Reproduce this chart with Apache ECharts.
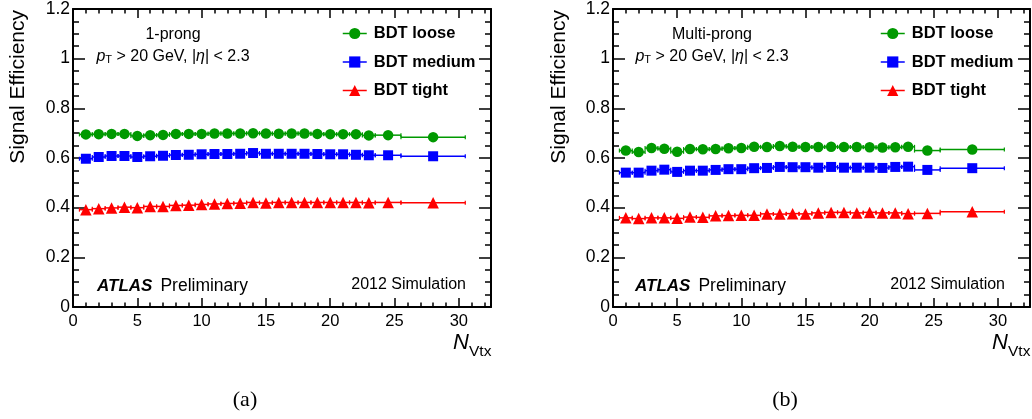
<!DOCTYPE html>
<html>
<head>
<meta charset="utf-8">
<script src="https://cdn.jsdelivr.net/npm/echarts@6/dist/echarts.min.js"></script>
<style>
html,body{margin:0;padding:0;background:#fff;}
#chart{width:1032px;height:419px;}
</style>
</head>
<body>
<div id="chart"></div>
<script>
// ---- data ----
const nvtx    = [1,2,3,4,5,6,7,8,9,10,11,12,13,14,15,16,17,18,19,20,21,22,23,24.5,28];
const binLow  = [0.5,1.5,2.5,3.5,4.5,5.5,6.5,7.5,8.5,9.5,10.5,11.5,12.5,13.5,14.5,15.5,16.5,17.5,18.5,19.5,20.5,21.5,22.5,23.5,25.5];
const binHigh = [1.5,2.5,3.5,4.5,5.5,6.5,7.5,8.5,9.5,10.5,11.5,12.5,13.5,14.5,15.5,16.5,17.5,18.5,19.5,20.5,21.5,22.5,23.5,25.5,30.5];

const looseA  = [0.695,0.696,0.697,0.697,0.689,0.692,0.693,0.697,0.697,0.697,0.699,0.699,0.699,0.700,0.699,0.698,0.699,0.699,0.697,0.696,0.696,0.696,0.691,0.692,0.684];
const mediumA = [0.597,0.604,0.608,0.608,0.604,0.607,0.609,0.612,0.613,0.615,0.616,0.616,0.617,0.620,0.617,0.617,0.617,0.617,0.616,0.615,0.615,0.613,0.611,0.611,0.607];
const tightA  = [0.392,0.396,0.399,0.402,0.400,0.405,0.405,0.409,0.410,0.413,0.415,0.417,0.418,0.421,0.419,0.421,0.421,0.421,0.421,0.421,0.421,0.421,0.420,0.421,0.420];

const looseB  = [0.630,0.624,0.640,0.637,0.625,0.636,0.635,0.636,0.639,0.640,0.645,0.644,0.648,0.645,0.644,0.644,0.645,0.644,0.644,0.643,0.642,0.643,0.645,0.630,0.634];
const mediumB = [0.541,0.541,0.549,0.553,0.544,0.549,0.549,0.552,0.555,0.555,0.559,0.560,0.564,0.563,0.563,0.561,0.564,0.561,0.561,0.561,0.560,0.564,0.565,0.552,0.559];
const tightB  = [0.359,0.356,0.359,0.359,0.357,0.362,0.361,0.367,0.368,0.369,0.369,0.375,0.374,0.376,0.375,0.379,0.381,0.381,0.379,0.381,0.379,0.379,0.376,0.377,0.384];

const seriesNames = ['BDT loose','BDT medium','BDT tight'];
const panelLabels = ['1-prong','Multi-prong'];
const captions = ['(a)','(b)'];
const xMin = 0, xMax = 32.5, xInterval = 5;
const yMin = 0, yMax = 1.2, yInterval = 0.2;

// ---- styles ----
const FONT = 'Liberation Sans, Arial, sans-serif';
const colors = ['#009900','#0000ff','#ff0000'];
const symbols = ['circle','rect','triangle'];
const symbolSizes = [10.5,10,11.5];

const grids = [
  {left:73, top:7, width:418, height:300},
  {left:613, top:7, width:417, height:300}
];

function xAxes(gi){
  const common = {
    type:'value', gridIndex:gi, min:xMin, max:xMax, interval:xInterval,
    axisLine:{show:true, onZero:false, lineStyle:{color:'#000', width:2}},
    axisTick:{show:true, inside:true, length:9, lineStyle:{color:'#000', width:1.5}},
    minorTick:{show:true, splitNumber:5, length:4.5, lineStyle:{color:'#000', width:1.5}},
    splitLine:{show:false}
  };
  return [
    Object.assign({}, common, {position:'bottom',
      axisLabel:{show:true, color:'#000', fontSize:16.5, fontFamily:FONT, margin:6,
        showMaxLabel:false,
        formatter:v => (Math.abs(v % 5) < 1e-9 ? String(v) : '')}}),
    Object.assign({}, common, {position:'top', axisLabel:{show:false}})
  ];
}
function yAxes(gi){
  const common = {
    type:'value', gridIndex:gi, min:yMin, max:yMax, interval:yInterval,
    axisLine:{show:true, onZero:false, lineStyle:{color:'#000', width:2}},
    axisTick:{show:true, inside:true, length:12, lineStyle:{color:'#000', width:1.5}},
    minorTick:{show:true, splitNumber:4, length:6, lineStyle:{color:'#000', width:1.5}},
    splitLine:{show:false}
  };
  return [
    Object.assign({}, common, {position:'left',
      axisLabel:{show:true, color:'#000', fontSize:17.5, fontFamily:FONT, margin:3}}),
    Object.assign({}, common, {position:'right', axisLabel:{show:false}})
  ];
}

function errRender(params, api){
  const y = api.value(1);
  const p1 = api.coord([api.value(2), y]);
  const p2 = api.coord([api.value(3), y]);
  const color = api.visual('color');
  return {type:'group', children:[
    {type:'line', shape:{x1:p1[0], y1:p1[1], x2:p2[0], y2:p2[1]}, style:{stroke:color, lineWidth:1.5}},
    {type:'line', shape:{x1:p1[0], y1:p1[1]-2, x2:p1[0], y2:p1[1]+2}, style:{stroke:color, lineWidth:1.2}},
    {type:'line', shape:{x1:p2[0], y1:p2[1]-2, x2:p2[0], y2:p2[1]+2}, style:{stroke:color, lineWidth:1.2}}
  ]};
}

const panels = [[looseA, mediumA, tightA],[looseB, mediumB, tightB]];
const series = [];
panels.forEach((vals, gi) => {
  vals.forEach((arr, si) => {
    series.push({
      type:'custom', name:'err'+gi+si, xAxisIndex:gi*2, yAxisIndex:gi*2,
      renderItem:errRender, itemStyle:{color:colors[si]}, z:2, silent:true,
      encode:{x:0, y:1},
      data: nvtx.map((x,i) => [x, arr[i], binLow[i], binHigh[i]])
    });
    series.push({
      type:'line', name:seriesNames[si], xAxisIndex:gi*2, yAxisIndex:gi*2,
      symbol:symbols[si], symbolSize:symbolSizes[si], showSymbol:true,
      lineStyle:{width:0, color:colors[si]}, itemStyle:{color:colors[si]},
      z:3, silent:true, animation:false,
      data: nvtx.map((x,i) => [x, arr[i]])
    });
  });
});

const xa = [].concat(xAxes(0), xAxes(1));
const ya = [].concat(yAxes(0), yAxes(1));

function legendAt(left){
  return {
    data:seriesNames, orient:'vertical', left:left, top:25, padding:0,
    itemWidth:24, itemHeight:14, itemGap:11.5,
    lineStyle:{width:1.5},
    textStyle:{color:'#000', fontSize:16.5, fontWeight:'bold', fontFamily:FONT, lineHeight:16, padding:[0,0,0,2]},
    selectedMode:false
  };
}

function panelTexts(gi){
  const cx = [173, 712][gi];
  const atlasX = [97, 635][gi];
  const simX = [466, 1005][gi];
  const frameR = [491, 1030][gi];
  const ytX = [18, 559][gi];
  const capX = [245, 785][gi];
  return [
    {type:'text', x:cx, y:35, style:{text:panelLabels[gi], font:'16px '+FONT, fill:'#000', textAlign:'center', textVerticalAlign:'middle'}},
    {type:'text', x:cx, y:57, style:{
      text:'{i|p}{s|T}{n| > 20 GeV, |}{i|η}{n|| < 2.3}',
      textAlign:'center', textVerticalAlign:'middle',
      rich:{
        i:{fontFamily:FONT, fontSize:16, fontStyle:'italic', fill:'#000'},
        s:{fontFamily:FONT, fontSize:11, fill:'#000', verticalAlign:'bottom', padding:[6,0,0,0]},
        n:{fontFamily:FONT, fontSize:16, fill:'#000'}
      }}},
    {type:'text', x:atlasX, y:286, style:{
      text:'{b|ATLAS}{n|Preliminary}', textAlign:'left', textVerticalAlign:'middle',
      rich:{
        b:{fontFamily:FONT, fontSize:17, fontWeight:'bold', fontStyle:'italic', fill:'#000'},
        n:{fontFamily:FONT, fontSize:17.5, fill:'#000', padding:[0,0,0,8]}
      }}},
    {type:'text', x:simX, y:285, style:{text:'2012 Simulation', font:'16px '+FONT, fill:'#000', textAlign:'right', textVerticalAlign:'middle'}},
    {type:'text', x:frameR-22, y:343, style:{text:'N', font:'italic 22px '+FONT, fill:'#000', textAlign:'right', textVerticalAlign:'middle'}},
    {type:'text', x:frameR-22, y:352, style:{text:'Vtx', font:'15.5px '+FONT, fill:'#000', textAlign:'left', textVerticalAlign:'middle'}},
    {type:'text', x:ytX, y:10, rotation:Math.PI/2, style:{text:'Signal Efficiency', font:'21px '+FONT, fill:'#000', textAlign:'right', textVerticalAlign:'middle'}},
    {type:'text', x:capX, y:400, style:{text:captions[gi], font:'22px Liberation Serif, serif', fill:'#000', textAlign:'center', textVerticalAlign:'middle'}}
  ];
}

const chart = echarts.init(document.getElementById('chart'), null, {renderer:'canvas'});
chart.setOption({
  backgroundColor:'#fff',
  animation:false,
  grid:grids,
  xAxis:xa,
  yAxis:ya,
  legend:[legendAt(342), legendAt(880)],
  series:series,
  graphic:[].concat(panelTexts(0), panelTexts(1))
});
</script>
</body>
</html>
